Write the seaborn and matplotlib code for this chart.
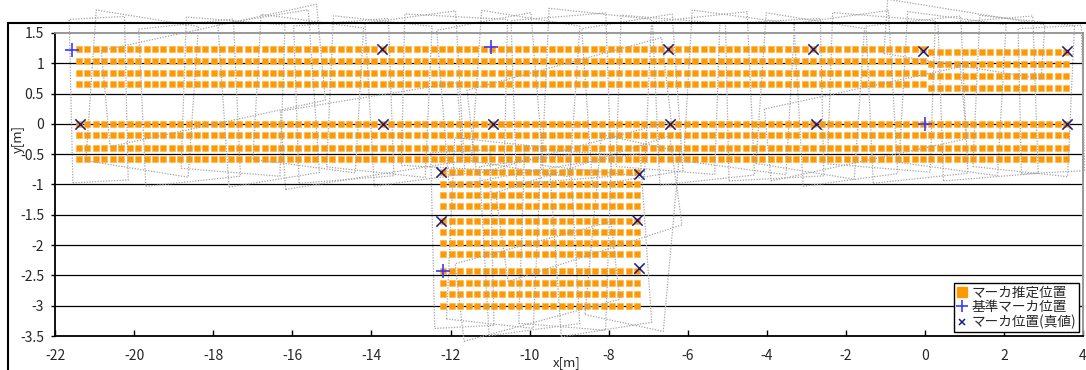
import numpy as np
import pandas as pd
import matplotlib
matplotlib.use("Agg")
import matplotlib.pyplot as plt
import seaborn as sns
from matplotlib.lines import Line2D

# ---------------- data ----------------
band_cols = [-21.40, -21.19, -20.97, -20.76, -20.55, -20.33, -20.12, -19.91, -19.69, -19.48,
             -19.27, -19.05, -18.84, -18.62, -18.41, -18.20, -17.98, -17.77, -17.56, -17.34,
             -17.13, -16.92, -16.70, -16.49, -16.28, -16.06, -15.85, -15.64, -15.42, -15.21,
             -15.00, -14.78, -14.57, -14.35, -14.14, -13.93, -13.71, -13.50, -13.29, -13.07,
             -12.86, -12.65, -12.43, -12.22, -12.01, -11.79, -11.58, -11.37, -11.15, -10.94,
             -10.73, -10.51, -10.30, -10.08, -9.87, -9.66, -9.44, -9.23, -9.02, -8.80,
             -8.59, -8.38, -8.16, -7.95, -7.74, -7.52, -7.31, -7.10, -6.88, -6.67,
             -6.46, -6.24, -6.03, -5.81, -5.60, -5.39, -5.17, -4.96, -4.75, -4.53,
             -4.32, -4.11, -3.89, -3.68, -3.47, -3.25, -3.04, -2.83, -2.61, -2.40,
             -2.19, -1.97, -1.76, -1.54, -1.33, -1.12, -0.90, -0.69, -0.48, -0.26,
             -0.05, 0.16, 0.38, 0.59, 0.80, 1.02, 1.23, 1.44, 1.66, 1.87,
             2.09, 2.30, 2.51, 2.73, 2.94, 3.15, 3.37, 3.58]
low_cols = [-12.18, -11.97, -11.75, -11.54, -11.33, -11.11, -10.90, -10.69, -10.47, -10.26,
            -10.05, -9.83, -9.62, -9.40, -9.19, -8.98, -8.76, -8.55, -8.34, -8.12,
            -7.91, -7.70, -7.48, -7.27]

upper_rows_left = [1.24, 1.03, 0.845, 0.66]
upper_rows_right = [1.19, 0.99, 0.79, 0.60]
upper_split_x = 0.05
middle_rows = [0.0, -0.19, -0.39, -0.58]
lower_rows = [-0.80, -0.99, -1.17, -1.36, -1.60, -1.78, -1.97, -2.15,
              -2.42, -2.62, -2.81, -3.00]

ref_x = [-21.57, -10.97, 0.00, -12.18]
ref_y = [1.22, 1.27, 0.00, -2.42]

true_x = [-13.74, -6.49, -2.84, -0.05, 3.60,
          -21.38, -13.70, -10.92, -6.44, -2.76, 3.60,
          -12.23, -7.24, -12.23, -7.29, -7.24]
true_y = [1.24, 1.24, 1.24, 1.20, 1.20,
          0.00, 0.00, 0.00, 0.00, 0.00, 0.00,
          -0.79, -0.83, -1.60, -1.58, -2.37]

# camera footprints: centre x, centre y, width, height, angle(deg)
fp_cx = [-20.9, -19.8, -18.6, -17.5, -16.6, -15.6, -14.7, -13.8, -12.9, -11.9,
         -11.0, -10.1, -9.2, -8.3, -7.4, -6.5, -5.6, -4.7, -3.8, -2.9,
         -2.0, -1.1, -0.2, 0.7, 1.6, 2.5, 3.2, -18.0, -9.0, -1.5, 1.0, -14.0,
         -11.7, -10.9, -10.0, -9.1, -8.2, -7.4, -8.5, -9.8]
fp_cy = [0.40, 0.50, 0.35, 0.45, 0.42, 0.50, 0.38, 0.45, 0.42, 0.52,
         0.40, 0.50, 0.42, 0.52, 0.40, 0.48, 0.42, 0.52, 0.40, 0.46,
         0.42, 0.52, 0.40, 0.50, 0.42, 0.46, 0.40, 0.80, 0.30, 0.00, 1.40, -0.20,
         -1.90, -1.80, -2.00, -1.90, -2.00, -1.80, -1.40, -2.60]
fp_w = [1.4, 2.6, 2.4, 2.5, 2.3, 2.6, 2.4, 2.5, 2.3, 2.6,
        2.4, 2.5, 2.4, 2.6, 2.3, 2.5, 2.4, 2.6, 2.4, 2.5,
        2.4, 2.6, 2.4, 2.5, 2.4, 2.4, 1.6, 5.5, 5.0, 5.0, 4.0, 4.5,
        1.5, 2.2, 2.3, 2.2, 2.3, 2.0, 4.5, 4.0]
fp_h = [2.7, 2.5, 2.6, 2.5, 2.7, 2.4, 2.6, 2.5, 2.7, 2.5,
        2.6, 2.5, 2.7, 2.6, 2.6, 2.5, 2.7, 2.5, 2.6, 2.5,
        2.7, 2.5, 2.6, 2.5, 2.6, 2.5, 2.4, 1.6, 1.4, 1.2, 0.9, 1.3,
        2.9, 3.0, 2.8, 2.9, 2.8, 3.0, 1.5, 1.3]
fp_ang = [2, -6, 4, -3, 6, -5, 3, -4, 5, -2,
          7, -6, 3, -4, 6, -3, 4, -5, 2, -6,
          5, -3, 4, -5, 3, -4, 2, 8, 10, 8, -6, 6,
          2, -4, 5, -3, 6, -8, 12, 10]

legend_labels = ["マーカ推定位置", "基準マーカ位置", "マーカ位置(真値)"]
x_ticks = [-22, -20, -18, -16, -14, -12, -10, -8, -6, -4, -2, 0, 2, 4]
y_ticks = [-3.5, -3, -2.5, -2, -1.5, -1, -0.5, 0, 0.5, 1, 1.5]

# ---------------- build tables ----------------
est = []
for i in range(4):
    for x in band_cols:
        y = upper_rows_left[i] if x < upper_split_x else upper_rows_right[i]
        est.append((x, y))
for y in middle_rows:
    for x in band_cols:
        est.append((x, y))
for y in lower_rows:
    for x in low_cols:
        est.append((x, y))
est_df = pd.DataFrame(est, columns=["x", "y"])
ref_df = pd.DataFrame({"x": ref_x, "y": ref_y})
true_df = pd.DataFrame({"x": true_x, "y": true_y})

# ---------------- figure ----------------
sns.set_style("white")
plt.rcParams["font.family"] = ["Noto Sans CJK JP", "DejaVu Sans"]
plt.rcParams["axes.unicode_minus"] = True

W, H = 1086, 370
fig = plt.figure(figsize=(W / 100, H / 100), dpi=100)
ax = fig.add_axes([55.2 / W, (H - 336) / H, (1083 - 55.2) / W, (336 - 33) / H])

# outer chart frame
fig.add_artist(Line2D([8 / W, 8 / W], [0, (H - 23) / H], color="black", lw=1.5,
                      transform=fig.transFigure))
fig.add_artist(Line2D([8 / W, 1], [(H - 23) / H, (H - 23) / H], color="black", lw=1.5,
                      transform=fig.transFigure))

ax.set_xlim(-22, 4)
ax.set_ylim(-3.5, 1.5)

for yv in y_ticks[1:-1]:
    ax.axhline(yv, color="black", lw=0.9, zorder=1)

sns.scatterplot(data=est_df, x="x", y="y", ax=ax, marker="s", s=14,
                color="#FF9900", edgecolor="#FFB040", linewidth=0.4, zorder=2, legend=False)

# footprints
for cx, cy, w, h, a in zip(fp_cx, fp_cy, fp_w, fp_h, fp_ang):
    t = np.deg2rad(a)
    c, s_ = np.cos(t), np.sin(t)
    dx = np.array([-w / 2, w / 2, w / 2, -w / 2, -w / 2])
    dy = np.array([-h / 2, -h / 2, h / 2, h / 2, -h / 2])
    px = cx + dx * c - dy * s_
    py = cy + dx * s_ + dy * c
    ax.plot(px, py, ls=(0, (1, 1.2)), color="#A4A4A4", lw=0.9, zorder=3, clip_on=False)

sns.scatterplot(data=ref_df, x="x", y="y", ax=ax, marker="+", s=90,
                color="#3A3AFF", linewidth=1.2, zorder=5, legend=False)
sns.scatterplot(data=true_df, x="x", y="y", ax=ax, marker="x", s=55,
                color="#1A1A80", linewidth=1.1, zorder=5, legend=False)

ax.set_xticks(x_ticks)
ax.set_yticks(y_ticks)
ax.set_xticklabels([str(v) for v in x_ticks])
ax.set_yticklabels([("%g" % v) for v in y_ticks])
ax.set_xlabel("")
ax.set_ylabel("")
ax.tick_params(axis="x", direction="in", length=4, width=1, color="black",
               labelsize=10, pad=9, bottom=True)
ax.tick_params(axis="y", direction="out", length=3, width=1, color="black",
               labelsize=10, pad=5, left=True)
for side in ["left", "bottom"]:
    ax.spines[side].set_color("black")
    ax.spines[side].set_linewidth(1.3)
for side in ["top", "right"]:
    ax.spines[side].set_color("#909090")
    ax.spines[side].set_linewidth(1.3)

fig.text(18 / W, 1 - 139 / H, "y[m]", rotation=90, ha="center", va="center", fontsize=9.5)
fig.text(567 / W, 1 - 363 / H, "x[m]", ha="center", va="center", fontsize=9.5)

handles = [
    Line2D([], [], ls="none", marker="s", ms=7.5, mfc="#FF9900", mec="#FF9900"),
    Line2D([], [], ls="none", marker="+", ms=9, mec="#3A3AFF", mew=1.2),
    Line2D([], [], ls="none", marker="x", ms=5, mec="#1A1A80", mew=1.1),
]
leg = ax.legend(handles, legend_labels, loc="lower right", bbox_to_anchor=(0.9961, 0.0132),
                borderaxespad=0, frameon=True, fancybox=False, edgecolor="black",
                framealpha=1, prop={"family": ["Noto Sans CJK JP", "DejaVu Sans"], "size": 9.8},
                handlelength=0.8, handletextpad=0.3, labelspacing=0.05, borderpad=0.2)
leg.get_frame().set_linewidth(1.0)
leg.set_zorder(10)

fig.savefig("out.png", dpi=100)
